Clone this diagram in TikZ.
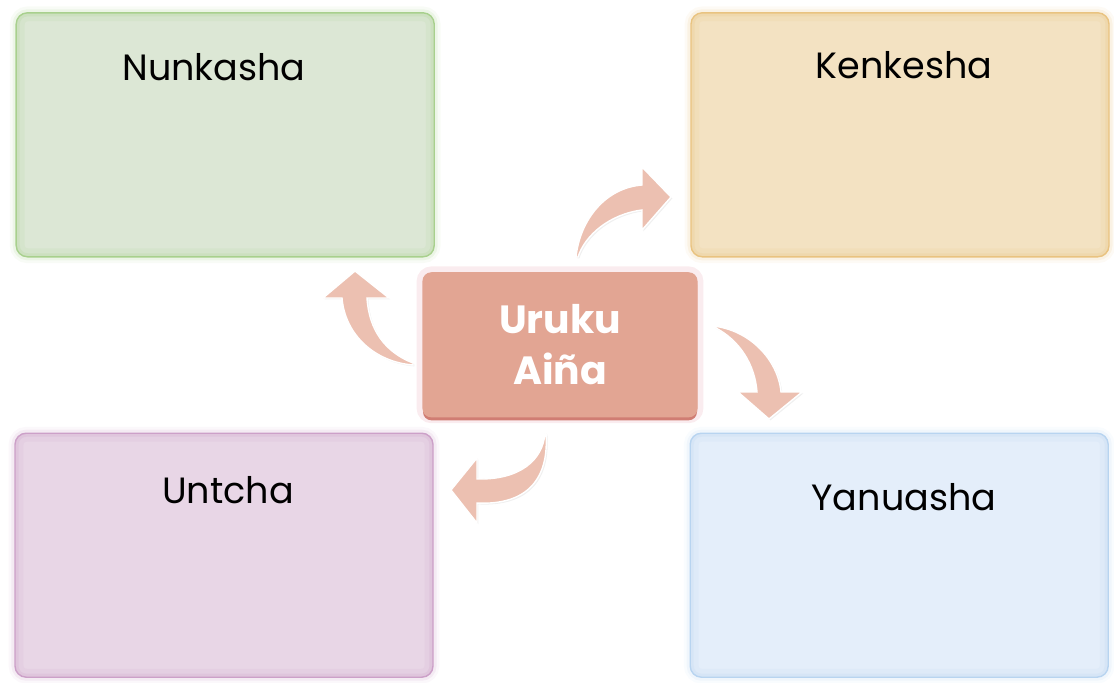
\documentclass[tikz,border=0pt]{standalone}
\usepackage{fontspec}
\setmainfont{Poppins}
\usepackage{tikz}
\usetikzlibrary{positioning, shadows}
\definecolor{greenfill}{RGB}{220, 231, 213}
\definecolor{greenline}{RGB}{168, 208, 141}
\definecolor{orangefill}{RGB}{243, 226, 194}
\definecolor{orangeline}{RGB}{233, 195, 128}
\definecolor{purplefill}{RGB}{232, 214, 230}
\definecolor{purpleline}{RGB}{204, 160, 200}
\definecolor{bluefill}{RGB}{228, 238, 250}
\definecolor{blueline}{RGB}{184, 212, 240}
\definecolor{hubfill}{RGB}{226, 165, 147}
\definecolor{hubline}{RGB}{208, 125, 115}
\definecolor{hubglow}{RGB}{236, 180, 190}
\definecolor{arrowfill}{RGB}{236, 192, 177}

\begin{document}
\begin{tikzpicture}[
    x=1cm, y=-1cm,
    box/.style={draw=#1line, fill=#1fill, line width=1pt, rounded corners=8pt, minimum width=10.45cm, minimum height=6.1cm,
        preaction={draw=#1line, line width=9pt, opacity=0.08},
        preaction={draw=#1line, line width=5pt, opacity=0.15},
        path picture={
            \draw[#1line, line width=12pt, opacity=0.12, rounded corners=8pt] (path picture bounding box.south west) rectangle (path picture bounding box.north east);
            \draw[#1line, line width=5pt, opacity=0.2, rounded corners=8pt] (path picture bounding box.south west) rectangle (path picture bounding box.north east);}},
    title/.style={font=\fontsize{26}{30}\selectfont, anchor=base},
    hub/.style={draw=hubfill, fill=hubfill, line width=0.8pt, rounded corners=6pt, minimum width=6.85cm, minimum height=3.6cm,
        preaction={draw=hubglow, line width=9pt, opacity=0.25},
        drop shadow={shadow xshift=0pt, shadow yshift=-2.5pt, opacity=1, fill=hubline},
        text=white, align=center, font=\fontsize{28}{36}\selectfont\bfseries},
    flow/.style={fill=arrowfill, draw=white, line width=1pt, drop shadow={opacity=0.12, shadow xshift=1pt, shadow yshift=-1pt}}
]
    \useasboundingbox (0, 0) rectangle (27.85, 17.05);

    % Corner boxes
    \node[box=green] (nunkasha) at (5.63, 3.37) {};
    \node[title] (nunkasha-title) at (5.35, 2.0) {Nunkasha};

    \node[box=orange] (kenkesha) at (22.5, 3.37) {};
    \node[title] (kenkesha-title) at (22.6, 1.95) {Kenkesha};

    \node[box=purple] (untcha) at (5.6, 13.88) {};
    \node[title] (untcha-title) at (5.7, 12.575) {Untcha};

    \node[box=blue] (yanuasha) at (22.48, 13.88) {};
    \node[title] (yanuasha-title) at (22.6, 12.75) {Yanuasha};

    % Centre
    \node[hub] (uruku) at (14.0, 8.62) {Uruku\\Aiña};

    % Curved arrows
    \path[flow] (14.4, 6.425) .. controls (14.5, 5.5) and (15.125, 4.7) .. (16.05, 4.625)
        -- (16.05, 4.175) -- (16.775, 4.925) -- (16.05, 5.75) -- (16.05, 5.25)
        .. controls (15.25, 5.35) and (14.625, 5.875) .. (14.45, 6.425) -- cycle;

    \path[flow] (10.325, 9.125) .. controls (9.375, 9.05) and (8.625, 8.375) .. (8.55, 7.45)
        -- (8.075, 7.45) -- (8.875, 6.775) -- (9.725, 7.45) -- (9.175, 7.45)
        .. controls (9.225, 8.25) and (9.625, 8.8) .. (10.325, 9.075) -- cycle;

    \path[flow] (17.825, 8.15) .. controls (18.75, 8.25) and (19.45, 9.0) .. (19.525, 9.8)
        -- (20.05, 9.8) -- (19.225, 10.475) -- (18.45, 9.8) -- (18.925, 9.8)
        .. controls (18.875, 9.125) and (18.5, 8.5) .. (17.85, 8.175) -- cycle;

    \path[flow] (13.625, 10.825) .. controls (13.575, 11.5) and (13.0, 12.0) .. (11.925, 11.975)
        -- (11.925, 11.45) -- (11.275, 12.25) -- (11.925, 13.075) -- (11.925, 12.575)
        .. controls (12.875, 12.625) and (13.75, 12.25) .. (13.65, 10.825) -- cycle;

\end{tikzpicture}
\end{document}
